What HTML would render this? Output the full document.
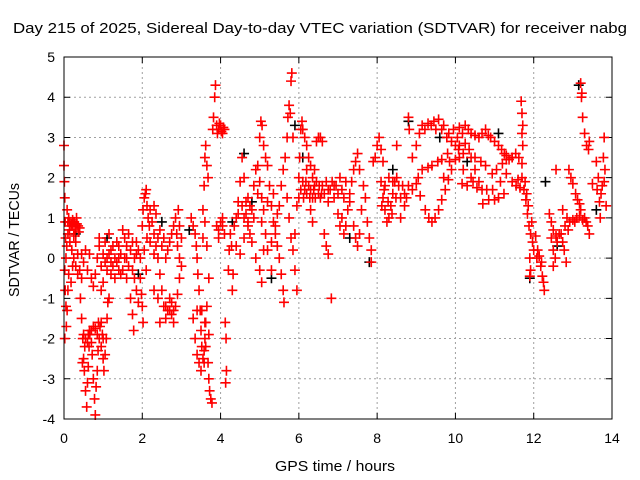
<!DOCTYPE html>
<html><head><meta charset="utf-8"><style>
body{margin:0;background:#fff;}
svg{display:block;font-family:"Liberation Sans",sans-serif;}
</style></head><body>
<svg id="chart" width="640" height="480">
<rect width="640" height="480" fill="#fff"/>
<text x="320" y="33" font-size="15" text-anchor="middle" textLength="614" lengthAdjust="spacingAndGlyphs">Day 215 of 2025, Sidereal Day-to-day VTEC variation (SDTVAR) for receiver nabg</text>
<text x="335" y="471" font-size="15" text-anchor="middle" textLength="120" lengthAdjust="spacingAndGlyphs">GPS time / hours</text>
<text transform="translate(19,240) rotate(-90)" font-size="15" text-anchor="middle" textLength="114" lengthAdjust="spacingAndGlyphs">SDTVAR / TECUs</text>
<g id="grid"></g>
<g id="ticks"></g>
<g id="marks"></g>
<rect x="64" y="57" width="548" height="362" fill="none" stroke="#000" stroke-width="1"/>
</svg>
<script>
const xTicks=[0,2,4,6,8,10,12,14];
const yTicks=[-4,-3,-2,-1,0,1,2,3,4,5];
const redPoints=[
[0,2.8],[0,2.3],[0.01,1.9],[0.02,1.5],[0.03,0.9],[0.04,0.5],[0.02,-0.3],[0.03,-0.8],[0.05,-1.2],[0.06,-1.7],[0.02,-2.0],[0.08,-1.3],[0.1,-0.8],[0.08,1.2],[0.12,1.0],[0.15,0.9],[0.18,0.8],[0.2,0.85],[0.23,0.8],[0.26,0.9],[0.3,0.8],[0.33,0.85],[0.36,0.8],[0.4,0.75],[0.1,0.6],[0.15,0.4],[0.2,0.2],[0.25,0],[0.3,-0.2],[0.35,0.1],[0.4,-0.3],[0.45,-0.5],[0.12,-0.4],[0.18,-0.6],[0.22,-0.2],
[0.1,0.9],[0.14,0.7],[0.22,0.95],[0.28,0.7],[0.32,1.0],[0.38,0.65],[0.25,0.55],[0.05,0.0],[0.07,0.3],[0.3,0.4],[0.35,-0.4],
[0.42,-1.0],[0.45,-1.5],[0.48,-2.0],[0.5,-2.5],[0.52,-2.8],[0.55,-3.3],[0.58,-3.7],[0.6,-3.1],[0.62,-2.7],[0.64,-2.2],[0.66,-1.9],[0.7,-1.8],[0.72,-2.4],[0.75,-3.0],[0.78,-3.5],[0.8,-3.9],[0.82,-3.2],[0.85,-2.8],[0.87,-2.3],[0.9,-2.0],[0.92,-1.7],[0.95,-1.6],[0.98,-1.9],[1.0,-2.5],[1.02,-2.8],[1.05,-2.4],[1.08,-2.0],[1.1,-1.5],[1.12,-1.1],[1.15,-1.0],[0.5,-1.9],[0.55,-2.0],[0.6,-2.1],[0.65,-1.8],[0.75,-1.7],[0.85,-1.9],
[0.8,-1.75],[0.88,-1.6],[0.95,-2.2],[1.0,-2.0],[0.7,-2.1],[0.62,-1.9],[0.53,-2.2],[0.47,-2.6],
[0.45,0.1],[0.5,-0.1],[0.55,0.2],[0.6,-0.3],[0.65,0.1],[0.7,-0.5],[0.75,-0.7],[0.8,-0.4],[0.85,0],[0.9,0.3],[0.95,-0.2],[1.0,0.1],[1.05,0.4],[1.1,0],[1.15,0.6],[1.2,0.2],[1.25,-0.2],[1.3,0],[1.35,0.4],[1.4,-0.3],[1.45,0.1],[1.5,0.7],[1.55,0.5],[1.6,0.3],[1.65,0.6],[1.7,0.2],[1.75,-0.3],[1.8,0],[1.85,0.4],[1.9,0.2],[1.95,-0.5],[1.0,-0.6],[1.1,-0.3],[1.2,-0.4],[1.3,-0.5],[1.4,0.3],[1.5,-0.3],[1.6,-0.5],[1.7,-1.0],[1.75,-1.4],[1.78,-1.8],[1.85,-0.8],[1.9,-1.1],[0.95,-0.8],[0.9,0.5],
[1.05,-0.1],[1.15,0.1],[1.25,0.3],[1.35,-0.1],[1.45,-0.4],[1.55,0.0],[1.65,-0.2],[1.75,0.4],[1.85,0.1],[1.95,0.0],[1.2,-0.1],[1.4,0.0],[1.6,0.0],[1.8,-0.5],
[2.0,0.8],[2.02,1.2],[2.05,1.5],[2.08,1.6],[2.1,1.7],[2.12,1.3],[2.15,1.0],[2.18,0.8],[2.2,1.2],[2.25,0.9],[2.3,0.6],[2.35,0.3],[2.4,0],[2.45,-0.4],[2.5,-0.8],[2.55,-1.2],[2.6,-1.5],[2.65,-1.3],[2.7,-1.0],[2.75,-1.4],[2.8,-1.6],[2.85,-1.2],[2.9,-0.9],[2.95,-0.5],[2.05,0.2],[2.1,-0.3],[2.0,-1.2],[2.02,-1.6],[1.98,-0.9],[2.2,0.4],[2.3,0.1],[2.4,0.5],[2.5,0.3],[2.6,0],[2.7,0.4],[2.8,0.8],[2.85,1.0],[2.88,0.6],[2.9,0.3],[2.95,0],[3.0,-0.2],[2.92,1.2],[2.95,0.8],[3.0,0.5],[2.3,-0.8],[2.4,-1.0],[2.45,-1.6],
[2.6,-1.2],[2.7,-1.3],[2.8,-1.3],[2.75,-1.1],[2.3,1.3],[2.35,1.1],[2.45,0.7],[2.55,0.5],[2.65,0.2],[2.75,0.6],[2.12,0.5],
[3.25,1.0],[3.3,0.8],[3.35,0.6],[3.38,0.3],[3.4,0],[3.42,-0.4],[3.45,-0.8],[3.48,-1.3],[3.5,-1.8],[3.52,-2.2],[3.55,-2.5],[3.58,-2.3],[3.6,-2.0],[3.62,-1.6],[3.65,-1.2],[3.3,-1.5],[3.35,-2.0],[3.4,-2.4],[3.45,-2.6],[3.5,-2.8],[3.55,1.2],[3.58,1.8],[3.6,2.5],[3.62,2.8],[3.65,2.3],[3.68,2.0],[3.55,0.5],[3.6,0.9],[3.65,0.3],[3.7,-0.5],[3.7,-3.0],[3.72,-3.3],[3.75,-3.5],[3.78,-3.6],[3.68,-2.6],[3.7,-1.9],[3.8,3.2],[3.82,3.5],[3.85,4.0],[3.87,4.3],[3.9,3.3],[3.95,3.2],[4.0,3.3],[4.05,3.1],[4.1,3.2],[3.9,0.8],[3.95,0.5],[4.0,0.9],[4.05,1.0],[4.1,0.6],[4.12,-1.6],[4.14,-2.0],[4.15,-2.8],[4.13,-3.1],[4.2,-0.3],[4.22,0.2],[4.25,0.6],[4.28,0.3],[4.3,-0.8],[4.32,-0.4],
[3.92,3.1],[3.97,3.35],[4.02,3.15],[4.07,3.25],[3.58,-2.6],[3.62,-2.2],[3.52,-1.3],[3.4,-1.3],[3.6,-1.6],[3.95,0.7],[4.05,0.8],
[4.35,0.8],[4.4,1.0],[4.45,1.4],[4.5,1.9],[4.55,2.5],[4.6,2.0],[4.65,1.4],[4.7,0.9],[4.75,0.6],[4.8,1.2],[4.85,1.8],[4.9,2.2],[4.95,2.3],[5.0,1.9],[5.05,1.5],[5.1,1.2],[4.4,0.3],[4.5,0.1],[4.6,0.5],[4.7,0.8],[4.8,0.4],[4.9,0],[5.0,-0.3],[5.05,-0.6],[5.1,0.2],[5.15,0.6],[4.6,1.0],[4.7,1.5],[5.0,3.0],[5.03,3.4],[5.06,3.3],[5.1,2.8],[5.15,2.5],[5.2,2.3],[5.25,1.8],[5.3,1.3],[5.35,0.9],[5.4,0.6],[5.45,0.3],[5.5,0],[5.55,-0.4],[5.6,-0.8],[5.62,-1.1],[5.3,0.4],[5.4,0.8],[5.5,1.3],[5.55,1.8],[5.6,2.2],[5.2,0.2],[5.3,-0.3],
[4.45,1.1],[4.55,1.3],[4.65,1.1],[4.75,1.3],[4.85,1.0],[4.95,1.6],[5.05,0.9],[5.2,1.4],[5.35,1.6],[5.45,1.1],
[5.65,2.5],[5.7,3.0],[5.72,3.5],[5.75,3.8],[5.8,4.4],[5.82,4.6],[5.78,3.6],[5.85,3.0],[5.7,1.5],[5.75,1.0],[5.8,0.5],[5.85,0.2],[5.9,0.6],[5.95,1.3],[6.0,2.0],[6.02,2.5],[6.05,3.2],[6.08,3.4],[6.1,3.2],[6.15,3.0],[6.2,2.8],[6.25,2.5],[6.3,2.3],[6.35,2.0],[6.4,1.8],[6.0,1.5],[6.05,1.7],[6.1,1.9],[6.15,1.7],[6.2,1.6],[6.25,1.8],[6.3,1.7],[6.35,1.5],[6.4,2.2],[6.45,2.9],[6.5,3.0],[6.55,3.0],[6.6,2.9],[6.45,1.9],[6.5,1.6],[6.55,1.5],[6.6,1.8],[5.9,-0.3],[5.95,-0.8],[6.2,2.2],[6.3,1.2],[6.35,0.9],
[6.12,1.5],[6.18,1.9],[6.28,1.5],[6.38,1.7],[6.42,1.5],[6.52,1.8],[6.58,1.6],
[6.65,1.6],[6.7,1.9],[6.75,1.4],[6.8,1.7],[6.85,1.9],[6.9,1.5],[6.95,1.8],[7.0,1.6],[7.05,2.0],[7.1,1.7],[6.65,0.6],[6.7,0.3],[6.75,0.1],[6.83,-1.0],[7.0,1.1],[7.05,0.8],[7.1,1.0],[7.15,0.6],[7.2,0.8],[7.25,1.2],[7.3,1.6],[7.35,1.9],[7.4,2.2],[7.45,2.4],[7.5,2.6],[7.55,2.2],[7.4,0.8],[7.45,0.5],[7.5,0.3],[7.55,0.6],[7.6,1.2],[7.65,1.8],[7.7,1.5],[7.75,0.9],[7.8,0.5],[7.85,0.2],[7.85,-0.1],[7.9,2.4],[7.95,2.5],[8.0,2.8],[8.05,3.0],[8.1,2.7],[8.15,2.4],[8.1,1.9],[8.15,1.5],[8.2,1.2],[8.25,0.9],[8.3,1.0],[8.35,1.3],[8.4,1.6],[8.45,1.9],[8.5,2.0],[8.2,1.8],[8.3,2.0],[8.4,1.9],[8.55,1.8],[8.6,1.5],[8.7,1.6],[8.8,1.8],[8.5,2.8],[8.8,3.5],[8.82,3.2],[8.6,1.0],[8.7,1.3],[8.9,2.5],
[6.75,1.7],[6.9,1.8],[7.15,1.5],[7.2,1.9],[7.3,1.4],[8.12,1.3],[8.18,1.7],[8.28,1.4],[8.38,1.1],[8.48,1.5],[8.65,1.8],[8.75,1.5],
[9.0,2.8],[9.15,3.3],[9.3,3.35],[9.45,3.4],[9.57,3.45],[9.7,3.3],[9.83,3.1],[9.95,3.2],[10.1,3.25],[10.25,3.3],[10.4,3.1],[10.6,3.0],[10.77,3.2],[10.9,3.0],[11.1,2.8],[11.25,2.6],[11.37,2.45],[11.54,2.6],[11.7,2.35],
[9.08,3.1],[9.22,3.2],[9.38,3.3],[9.5,3.2],[9.65,3.2],[9.78,3.0],[9.9,2.9],[10.05,3.0],[10.18,3.1],[10.33,3.2],[10.5,3.05],[10.68,3.1],[10.84,3.05],[11.0,2.9],[11.18,2.7],[11.3,2.55],[11.45,2.5],[11.62,2.5],
[8.9,1.7],[9.05,2.0],[9.15,2.2],[9.3,2.25],[9.4,2.3],[9.55,2.4],[9.65,2.45],[9.8,2.6],[10.0,2.8],[10.1,2.8],[10.25,2.85],[10.35,2.7],[10.5,2.5],[10.65,2.4],[10.77,2.3],[10.94,2.1],[11.05,2.2],[11.2,2.35],[11.3,2.45],[11.45,2.5],
[9.0,1.85],[9.1,1.55],[9.23,1.2],[9.32,1.0],[9.4,0.9],[9.48,1.0],[9.57,1.2],[9.65,1.45],[9.74,1.7],[9.82,1.95],[9.9,2.2],[10.0,2.45],[10.08,2.7],
[10.17,1.85],[10.3,1.8],[10.45,1.9],[10.55,1.75],[10.68,1.7],[10.85,1.45],[11.0,1.45],[11.1,1.5],[11.24,1.6],[10.7,1.35],[10.2,2.2],[10.6,1.9],
[10.1,2.5],[10.2,2.6],[10.4,2.5],[10.5,2.2],[10.4,2.0],[10.8,1.7],[10.95,1.7],[11.15,1.9],[11.3,2.1],[9.7,2.0],[9.85,2.4],
[11.45,1.9],[11.55,1.8],[11.65,1.75],[11.75,1.7],[11.68,3.9],[11.7,3.6],[11.72,3.3],[11.7,3.1],[11.72,2.8],[11.8,1.45],[11.84,1.1],[11.88,0.8],[11.92,0.6],[11.97,0.4],[12.05,0.55],[12.1,0.2],[12.14,0.05],[12.18,-0.2],[12.22,-0.45],[12.27,-0.8],[11.9,0],[11.92,-0.3],[11.9,-0.45],
[11.78,1.9],[11.82,1.6],[11.86,1.3],[11.95,0.9],[12.0,0.2],[12.08,0.0],[12.2,-0.1],[12.25,-0.6],[11.6,1.95],[11.7,2.0],
[12.4,1.1],[12.45,0.9],[12.5,0.7],[12.57,0.55],[12.57,2.2],[12.5,0.2],[12.5,-0.2],[12.65,0.6],[12.74,0.4],[12.83,-0.1],[12.78,0.2],[12.74,1.2],[12.85,1.0],[12.92,0.9],[13.0,0.95],[13.1,1.0],[13.17,1.05],[13.25,0.95],[13.34,0.9],[13.42,0.6],[12.9,2.2],[12.95,2.0],[13.0,1.85],[13.07,1.6],[13.12,1.45],[13.17,1.35],
[12.6,0.4],[12.7,0.6],[12.8,0.8],[12.88,0.7],[13.05,0.9],[13.2,1.2],[13.3,1.0],[13.38,0.8],[12.45,0.5],[12.55,0.0],
[13.2,4.35],[13.22,4.0],[13.23,4.1],[13.25,3.5],[13.3,3.1],[13.35,2.8],[13.4,2.7],[13.42,2.9],
[13.5,1.85],[13.6,2.4],[13.65,2.0],[13.7,1.0],[13.72,1.6],[13.75,1.8],[13.8,3.0],[13.82,2.2],[13.85,1.3],[13.78,2.5],[13.68,1.4],[13.62,1.7],[13.8,1.9]
];
const blackPoints=[
[0.3,0.6],[1.1,0.5],[1.9,-0.4],[2.5,0.9],[3.2,0.7],[4.3,0.9],[4.6,2.6],[4.8,1.4],[5.3,-0.5],[5.9,3.3],[6.1,2.5],[7.3,0.5],[7.8,-0.1],[8.4,2.2],[8.8,3.4],[9.6,3.0],[10.3,2.4],[11.1,3.1],[11.9,-0.5],[12.3,1.9],[12.6,0.3],[13.15,4.3],[13.6,1.2]
];
const X0=64,X1=612,Y0=419,Y1=57,xMin=0,xMax=14,yMin=-4,yMax=5;
function xs(t){return X0+(t-xMin)/(xMax-xMin)*(X1-X0);}
function ys(v){return Y0-(v-yMin)/(yMax-yMin)*(Y0-Y1);}
const NS='http://www.w3.org/2000/svg';
function mk(tag,parent,attrs){const e=document.createElementNS(NS,tag);for(const k in attrs)e.setAttribute(k,attrs[k]);parent.appendChild(e);return e;}
const grid=document.getElementById('grid'),ticks=document.getElementById('ticks'),marks=document.getElementById('marks');
xTicks.forEach(t=>{const x=xs(t);
 if(t>xMin&&t<xMax){const g=mk('line',grid,{x1:x,x2:x,y1:Y1,y2:Y0,stroke:'#a0a0a0','stroke-dasharray':'2,3'});
 
 }
 const tk=mk('path',ticks,{d:`M${x},${Y0}v-6M${x},${Y1}v6`,stroke:'#000'});
 
 
 const l=mk('text',ticks,{x:x,y:Y0+24,'font-size':14,'text-anchor':'middle'});l.textContent=t;
 
 
});
yTicks.forEach(v=>{const y=ys(v);
 if(v>yMin&&v<yMax){const g=mk('line',grid,{x1:X0,x2:X1,y1:y,y2:y,stroke:'#a0a0a0','stroke-dasharray':'2,3'});
 
 }
 const tk=mk('path',ticks,{d:`M${X0},${y}h6M${X1},${y}h-6`,stroke:'#000'});
 
 
 const l=mk('text',ticks,{x:X0-9,y:y+5,'font-size':14,'text-anchor':'end'});l.textContent=v;
 
 
});
function plus(p,color,name){const x=xs(p[0]),y=ys(p[1]);
 const e=mk('path',marks,{d:`M${x-5},${y}h10M${x},${y-5}v10`,stroke:color,'stroke-width':1.6});
 
 
}
blackPoints.forEach(p=>plus(p,'#000','black-point'));
redPoints.forEach(p=>plus(p,'#ff0000','red-point'));
</script>
</body></html>
